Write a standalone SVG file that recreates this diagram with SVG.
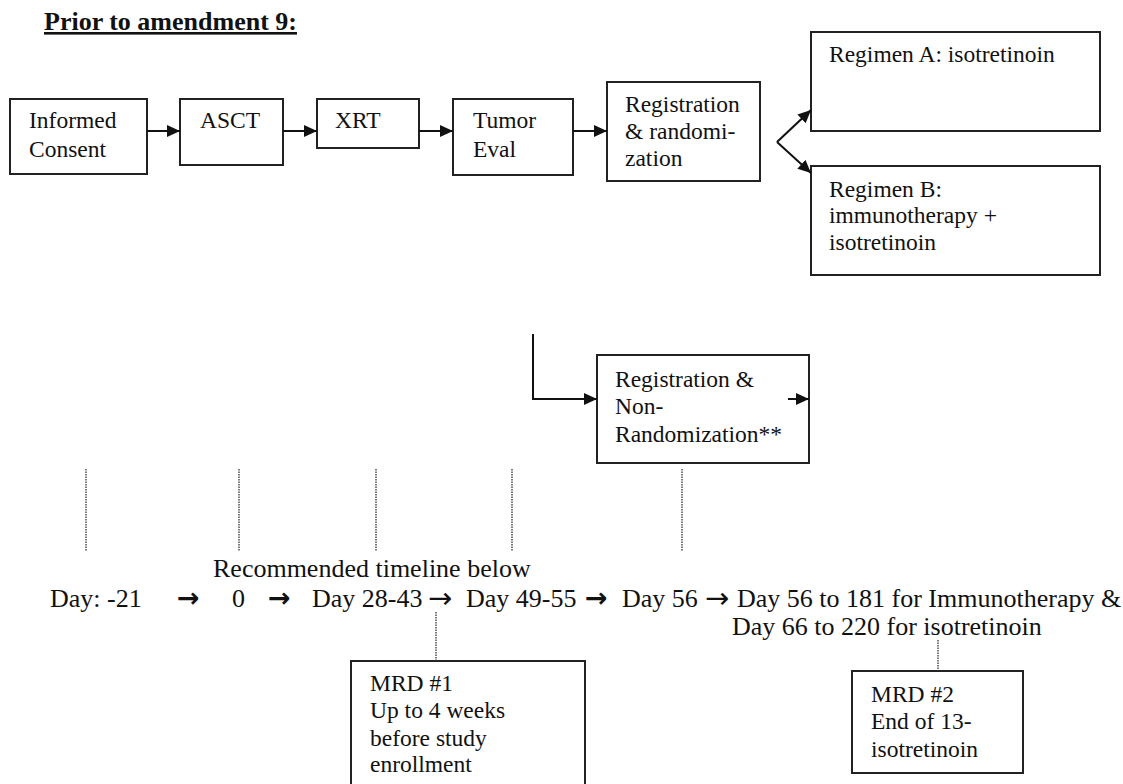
<svg xmlns="http://www.w3.org/2000/svg" width="1123" height="784" viewBox="0 0 1123 784">
<style>
.box{fill:#fff;stroke:#222;stroke-width:2}
.t{font-family:"Liberation Serif","Times New Roman",serif;font-size:23.5px;fill:#111}
.tl{font-family:"Liberation Serif","Times New Roman",serif;font-size:26px;fill:#111}
.ba{font-family:"DejaVu Sans",sans-serif;font-size:27px;font-weight:bold;fill:#111}
.ta{font-family:"DejaVu Sans",sans-serif;font-size:29px;fill:#111}
.c{fill:none;stroke:#111;stroke-width:2}
.d{fill:none;stroke:#333;stroke-width:1.3;stroke-dasharray:1.5 1}
</style>
<defs>
<marker id="ah" viewBox="0 0 13 12" refX="13" refY="6" markerWidth="13" markerHeight="12" markerUnits="userSpaceOnUse" orient="auto">
<path d="M0,0 L13,6 L0,12 z" fill="#111"/>
</marker>
</defs>
<rect width="1123" height="784" fill="#fff"/>
<text x="44" y="30" font-family="Liberation Serif, Times New Roman, serif" font-size="26" font-weight="bold" text-decoration="underline" fill="#111">Prior to amendment 9:</text>

<g id="informed-consent"><rect class="box" x="10" y="99" width="137" height="75"/><text class="t" x="29" y="128">Informed</text><text class="t" x="29" y="157">Consent</text></g>
<g id="asct"><rect class="box" x="180" y="99" width="103" height="66"/><text class="t" x="200" y="128">ASCT</text></g>
<g id="xrt"><rect class="box" x="317" y="99" width="102" height="49"/><text class="t" x="335" y="128">XRT</text></g>
<g id="tumor-eval"><rect class="box" x="453" y="99" width="120" height="76"/><text class="t" x="473" y="128">Tumor</text><text class="t" x="473" y="157">Eval</text></g>
<g id="registration"><rect class="box" x="607" y="82" width="153" height="99"/><text class="t" x="625" y="112">Registration</text><text class="t" x="625" y="139">&amp; randomi-</text><text class="t" x="625" y="166">zation</text></g>
<g id="regimen-a"><rect class="box" x="811" y="32" width="289" height="99"/><text class="t" x="829" y="62">Regimen A: isotretinoin</text></g>
<g id="regimen-b"><rect class="box" x="811" y="166" width="289" height="109"/><text class="t" x="829" y="197">Regimen B:</text><text class="t" x="829" y="223">immunotherapy +</text><text class="t" x="829" y="250">isotretinoin</text></g>
<g id="registration-nonrand"><rect class="box" x="597" y="355" width="212" height="108"/><text class="t" x="615" y="387">Registration &amp;</text><text class="t" x="615" y="414">Non-</text><text class="t" x="615" y="442">Randomization**</text></g>
<g id="mrd1"><rect class="box" x="351" y="661" width="234" height="130"/><text class="t" x="370" y="691">MRD #1</text><text class="t" x="370" y="718">Up to 4 weeks</text><text class="t" x="370" y="746">before study</text><text class="t" x="370" y="772">enrollment</text></g>
<g id="mrd2"><rect class="box" x="852" y="671" width="171" height="102"/><text class="t" x="871" y="702">MRD #2</text><text class="t" x="871" y="729">End of 13-</text><text class="t" x="871" y="757">isotretinoin</text></g>

<g id="connectors">
<line class="c" x1="147" y1="131" x2="180" y2="131" marker-end="url(#ah)"/>
<line class="c" x1="283" y1="131" x2="317" y2="131" marker-end="url(#ah)"/>
<line class="c" x1="419" y1="131" x2="453" y2="131" marker-end="url(#ah)"/>
<line class="c" x1="573" y1="131" x2="607" y2="131" marker-end="url(#ah)"/>
<line class="c" x1="777" y1="142" x2="811" y2="110" marker-end="url(#ah)"/>
<line class="c" x1="777" y1="142" x2="811" y2="173" marker-end="url(#ah)"/>
<polyline class="c" points="533,334 533,399 597,399" marker-end="url(#ah)"/>
<line class="c" x1="788" y1="399" x2="809" y2="399" marker-end="url(#ah)"/>
<line class="d" x1="86" y1="469" x2="86" y2="551"/>
<line class="d" x1="239" y1="469" x2="239" y2="551"/>
<line class="d" x1="376" y1="469" x2="376" y2="551"/>
<line class="d" x1="512" y1="469" x2="512" y2="551"/>
<line class="d" x1="682" y1="469" x2="682" y2="551"/>
<line class="d" x1="436" y1="612" x2="436" y2="661"/>
<line class="d" x1="938" y1="640" x2="938" y2="671"/>
</g>

<g id="timeline">
<text class="tl" x="213" y="577">Recommended timeline below</text>
<text class="tl" x="50" y="607">Day: -21</text>
<text class="ba" x="177" y="607">→</text>
<text class="tl" x="232" y="607">0</text>
<text class="ba" x="268" y="607">→</text>
<text class="tl" x="312" y="607">Day 28-43</text>
<text class="ta" x="428" y="608">→</text>
<text class="tl" x="466" y="607">Day 49-55</text>
<text class="ba" x="585" y="607">→</text>
<text class="tl" x="622" y="607">Day 56</text>
<text class="ta" x="705" y="608">→</text>
<text class="tl" x="737" y="607">Day 56 to 181 for Immunotherapy &amp;</text>
<text class="tl" x="732" y="635">Day 66 to 220 for isotretinoin</text>
</g>
</svg>
